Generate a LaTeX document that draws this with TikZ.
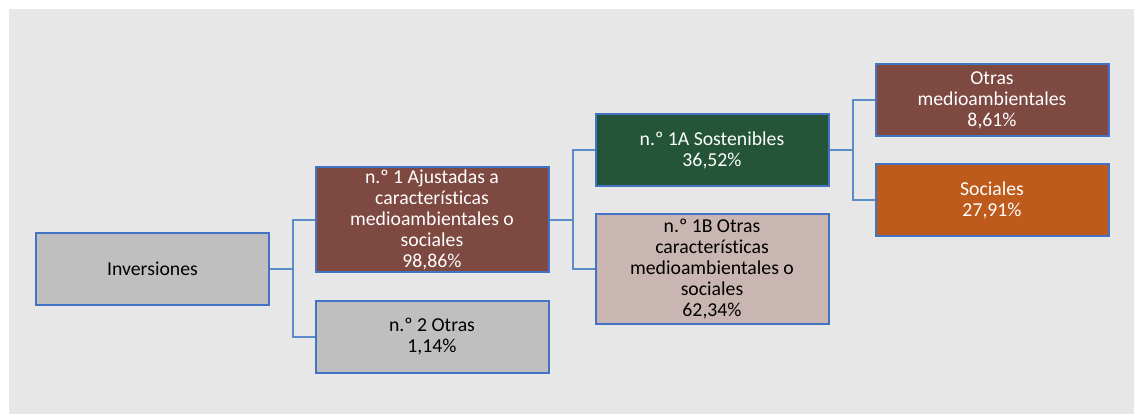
\documentclass[tikz,border=0pt]{standalone}
\usepackage{fontspec}
\setmainfont{Carlito}[Ligatures=NoCommon]
\definecolor{bg}{HTML}{E7E7E7}
\definecolor{bord}{HTML}{4472C4}
\definecolor{conn}{HTML}{5B8CC8}
\definecolor{boxgray}{HTML}{BFBFBF}
\definecolor{boxbrown}{HTML}{7D4940}
\definecolor{boxgreen}{HTML}{245539}
\definecolor{boxpink}{HTML}{C9B5B2}
\definecolor{boxorange}{HTML}{BD5A1C}
\tikzset{
  box/.style={draw=bord, line width=1.5pt, rectangle, minimum width=174.75pt, align=center,
    font=\fontsize{14.8}{15.75}\selectfont, inner sep=0pt},
  conline/.style={draw=conn, line width=1.5pt},
}
\begin{document}
\begin{tikzpicture}[x=0.75pt,y=-0.75pt]
\useasboundingbox (0,0) rectangle (1134,414);
\fill[white] (0,0) rectangle (1134,414);
\fill[bg] (9,9) rectangle (1134,414);
\node[box, fill=boxgray, minimum height=54pt, text=black] (inv) at (152.5,269) {Inversiones};
\node[box, fill=boxbrown, minimum height=78.75pt, text=white] (n1) at (432,219.5) {n.º 1 Ajustadas a\\características\\medioambientales o\\sociales\\98,86\%};
\node[box, fill=boxgray, minimum height=54pt, text=black] (n2) at (432,337) {n.º 2 Otras\\1,14\%};
\node[box, fill=boxgreen, minimum height=54pt, text=white] (n1a) at (712,150) {n.º 1A Sostenibles\\36,52\%};
\node[box, fill=boxpink, minimum height=82.5pt, text=black] (n1b) at (712,269) {n.º 1B Otras\\características\\medioambientales o\\sociales\\62,34\%};
\node[box, fill=boxbrown, minimum height=54pt, text=white] (om) at (992,100) {Otras\\medioambientales\\8,61\%};
\node[box, fill=boxorange, minimum height=54pt, text=white] (soc) at (992,200) {Sociales\\27,91\%};
\draw[conline] (inv.east) -- ++(23,0) coordinate (b1) |- (n1.west);
\draw[conline] (b1) |- (n2.west);
\draw[conline] (n1.east) -- ++(23,0) coordinate (b2) |- (n1a.west);
\draw[conline] (b2) |- (n1b.west);
\draw[conline] (n1a.east) -- ++(23,0) coordinate (b3) |- (om.west);
\draw[conline] (b3) |- (soc.west);
\end{tikzpicture}
\end{document}
